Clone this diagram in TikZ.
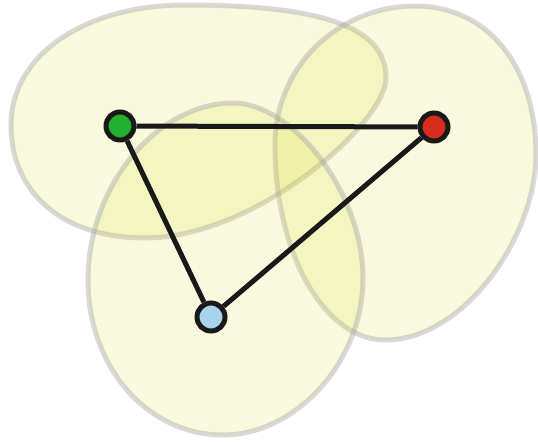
\documentclass[tikz,border=0pt]{standalone}
\usepackage{tikz}
\usetikzlibrary{positioning}
\usepackage{xcolor}
\definecolor{ink}{RGB}{25,25,25}
\definecolor{blobF}{RGB}{215,218,30}
\definecolor{blobL}{RGB}{160,160,160}
\definecolor{vgrn}{RGB}{32,176,45}
\definecolor{vred}{RGB}{216,44,30}
\definecolor{vblu}{RGB}{165,212,235}
\tikzset{
  blob/.style={draw=blobL,draw opacity=0.4,fill=blobF,fill opacity=0.15,line width=5pt},
  vtx/.style={circle,draw=ink,line width=5pt,minimum size=28pt,inner sep=0pt},
  edg/.style={draw=ink,line width=5pt},
}
\begin{document}
\begin{tikzpicture}[x=1pt,y=-1pt]
\useasboundingbox (0,0) rectangle (538,442);
% hyperedges
\draw[blob] (11,125) .. controls (11,55) and (85,5) .. (185,5)
  .. controls (325,5) and (386,28) .. (386,78)
  .. controls (386,123) and (255,238) .. (145,238)
  .. controls (65,238) and (11,195) .. (11,125) -- cycle;
\draw[blob] (415,6) .. controls (487,6) and (536,65) .. (536,155)
  .. controls (536,235) and (465,340) .. (385,340)
  .. controls (325,340) and (275,255) .. (275,145)
  .. controls (275,65) and (340,6) .. (415,6) -- cycle;
\draw[blob] (233,103) .. controls (293,103) and (363,193) .. (363,278)
  .. controls (363,363) and (295,435) .. (223,435)
  .. controls (148,435) and (88,368) .. (88,280)
  .. controls (88,185) and (158,103) .. (233,103) -- cycle;
% vertices
\node[vtx,fill=vgrn] (g) at (120,126) {};
\node[vtx,fill=vred] (r) at (434,127) {};
\node[vtx,fill=vblu] (b) at (211,317) {};
% edges
\draw[edg] (g) -- (r);
\draw[edg] (g) -- (b);
\draw[edg] (b) -- (r);
\end{tikzpicture}
\end{document}
